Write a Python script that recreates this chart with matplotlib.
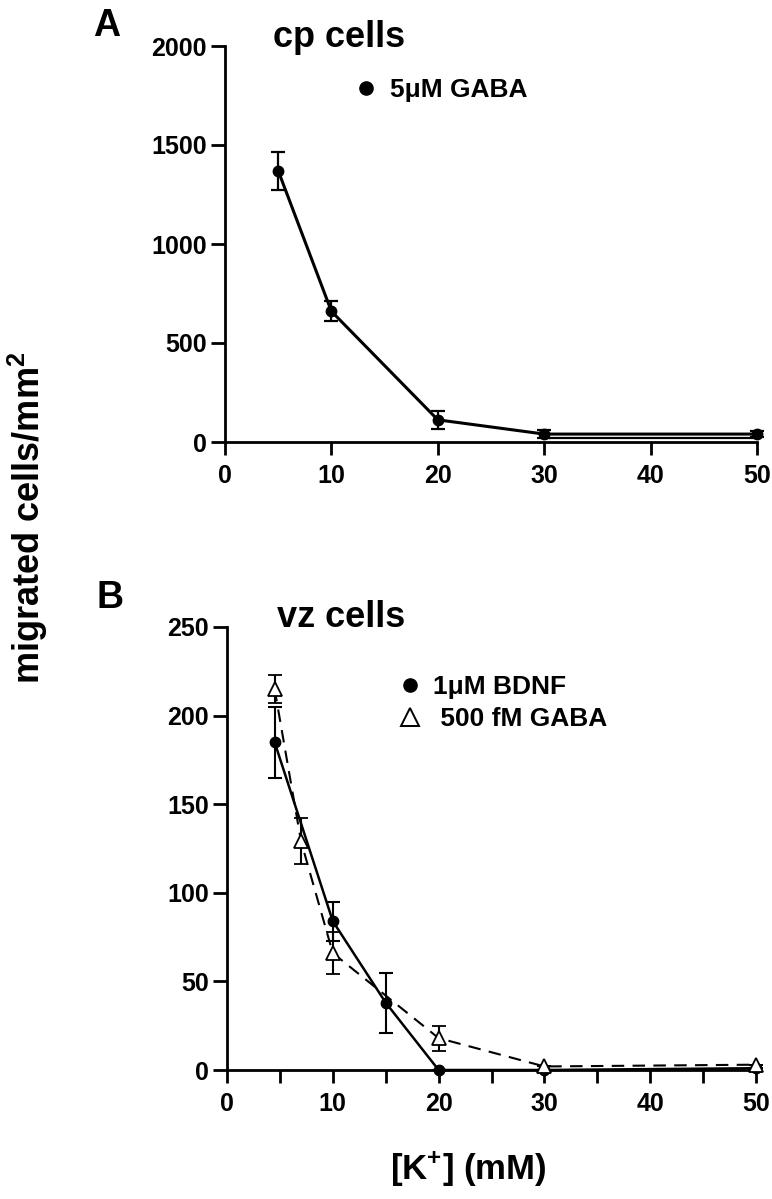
import matplotlib
matplotlib.use("Agg")
import matplotlib.pyplot as plt
from matplotlib.lines import Line2D

plt.rcParams['font.family'] = ['Liberation Sans', 'DejaVu Sans']
plt.rcParams['font.weight'] = 'bold'
plt.rcParams['mathtext.fontset'] = 'custom'
plt.rcParams['mathtext.rm'] = 'Liberation Sans:bold'
plt.rcParams['mathtext.bf'] = 'Liberation Sans:bold'
plt.rcParams['mathtext.it'] = 'Liberation Sans:bold'
plt.rcParams['mathtext.default'] = 'bf'

# ---- Data ----
# Panel A: cp cells, 5uM GABA
a_x = [5, 10, 20, 30, 50]
a_y = [1370, 660, 112, 40, 40]
a_err = [95, 50, 45, 20, 15]
a_base_x = [30, 50]
a_base_y = [18, 18]

# Panel B: vz cells
b_bdnf_x = [4.5, 10, 15, 20, 30, 50]
b_bdnf_y = [185, 84, 38, 0, 0, 1]
b_bdnf_err = [20, 11, 17, 0, 0, 0]

b_gaba_x = [4.5, 7, 10, 20, 30, 50]
b_gaba_y = [215, 129, 66, 18, 2, 3]
b_gaba_err = [8, 13, 12, 7, 0, 0]

a_yticks = [0, 500, 1000, 1500, 2000]
a_xticks = [0, 10, 20, 30, 40, 50]
b_yticks = [0, 50, 100, 150, 200, 250]
b_xticks_major = [0, 10, 20, 30, 40, 50]
b_xticks_minor = [5, 15, 25, 35, 45]

W, H = 772, 1199
fig = plt.figure(figsize=(W / 100, H / 100), dpi=100)

axA = fig.add_axes([225 / W, 1 - 442 / H, (757 - 225) / W, (442 - 46) / H])
axB = fig.add_axes([227 / W, 1 - 1070 / H, (756 - 227) / W, (1070 - 627) / H])

tick_fs = 18

def style(ax):
    for s in ['top', 'right']:
        ax.spines[s].set_visible(False)
    for s in ['left', 'bottom']:
        ax.spines[s].set_linewidth(2)
    ax.tick_params(axis='both', which='both', direction='out', width=2,
                   labelsize=tick_fs)
    ax.tick_params(axis='y', length=10, pad=3)
    ax.tick_params(axis='x', which='both', length=9.5, pad=6)
    for lab in ax.get_xticklabels() + ax.get_yticklabels():
        lab.set_fontweight('bold')

leg_prop = {'weight': 'bold', 'size': 19}

# ---- Panel A ----
axA.errorbar(a_x, a_y, yerr=a_err, color='black', lw=2.2, marker='o',
             markersize=7.5, capsize=5, elinewidth=1.6, capthick=1.6, clip_on=False, zorder=3)
axA.plot(a_base_x, a_base_y, color='black', lw=1.6, clip_on=False)
axA.set_xlim(0, 50)
axA.set_ylim(0, 2000)
axA.set_xticks(a_xticks)
axA.set_yticks(a_yticks)
style(axA)
hA = [Line2D([], [], color='black', marker='o', linestyle='none', markersize=9.5)]
axA.legend(hA, ['5\u03bcM GABA'], loc='upper left', bbox_to_anchor=(353 / W, 1 - 78 / H),
           bbox_transform=fig.transFigure, frameon=False, handlelength=1.0,
           handletextpad=0.4, borderpad=0, borderaxespad=0, prop=leg_prop)

# ---- Panel B ----
axB.errorbar(b_bdnf_x, b_bdnf_y, yerr=b_bdnf_err, color='black', lw=1.8, marker='o',
             markersize=7.5, capsize=5, elinewidth=1.5, capthick=1.5, clip_on=False, zorder=3)
axB.errorbar(b_gaba_x, b_gaba_y, yerr=b_gaba_err, color='black', lw=1.5, ls=(0, (6, 4)),
             marker='^', markersize=10, markerfacecolor='white', markeredgewidth=1.3,
             capsize=5, elinewidth=1.5, capthick=1.5, clip_on=False, zorder=4)
axB.set_xlim(0, 50)
axB.set_ylim(0, 250)
axB.set_xticks(b_xticks_major)
axB.set_xticks(b_xticks_minor, minor=True)
axB.set_yticks(b_yticks)
style(axB)
hB = [Line2D([], [], color='black', marker='o', linestyle='none', markersize=9.5),
      Line2D([], [], color='black', marker='^', markerfacecolor='white', linestyle='none',
             markersize=13, markeredgewidth=1.4)]
axB.legend(hB, ['1\u03bcM BDNF', ' 500 fM GABA'], loc='upper left',
           bbox_to_anchor=(397 / W, 1 - 675 / H), bbox_transform=fig.transFigure,
           frameon=False, handlelength=1.0, handletextpad=0.38, borderpad=0,
           borderaxespad=0, labelspacing=0.3, prop=leg_prop)

# ---- Text ----
fig.text(107 / W, 1 - 36 / H, 'A', fontsize=27, fontweight='bold', ha='center', va='baseline')
fig.text(110 / W, 1 - 608 / H, 'B', fontsize=27, fontweight='bold', ha='center', va='baseline')
fig.text(273 / W, 1 - 47 / H, 'cp cells', fontsize=26, fontweight='bold', ha='left', va='baseline')
fig.text(277 / W, 1 - 627 / H, 'vz cells', fontsize=26, fontweight='bold', ha='left', va='baseline')
fig.text(28 / W, 1 - 518 / H, 'migrated cells/mm$^{2}$', fontsize=26, fontweight='bold',
         rotation=90, ha='center', va='center')
fig.text(468 / W, 1 - 1168 / H, '[K$^{+}$] (mM)', fontsize=25, fontweight='bold',
         ha='center', va='center')

fig.savefig('out.png', dpi=100)
